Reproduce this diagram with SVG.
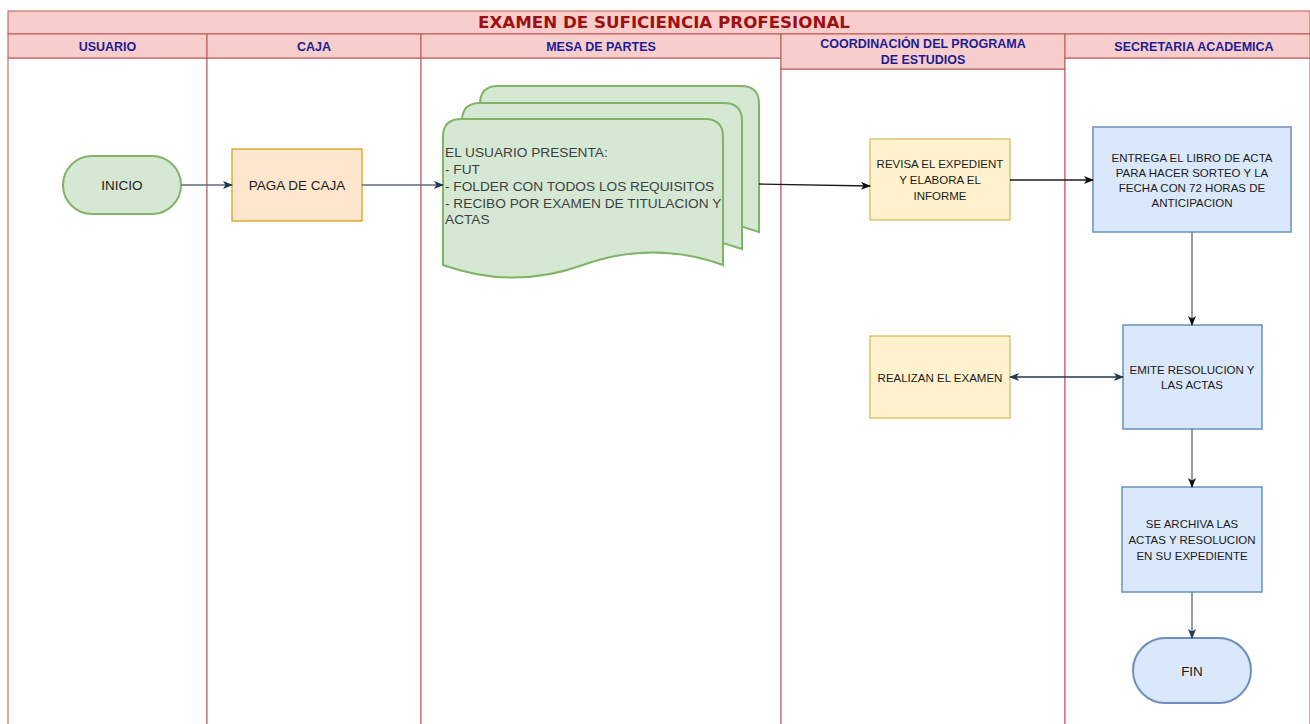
<svg xmlns="http://www.w3.org/2000/svg" width="1310" height="724" viewBox="0 0 1310 724">
<style>
.lane{fill:#ffffff;stroke:#b85450;stroke-width:1}
.hdr{fill:#f8cecc;stroke:#b85450;stroke-width:1}
.ht{font-family:"Liberation Sans",Arial,sans-serif;font-weight:bold;font-size:12.5px;fill:#1c1c94;text-anchor:middle}
.title{font-family:"DejaVu Sans",Verdana,sans-serif;font-weight:bold;font-size:15px;fill:#9e1010;text-anchor:middle}
.t{font-family:"Liberation Sans",Arial,sans-serif;font-size:11.5px;fill:#1a1a1a;text-anchor:middle}
.tb{font-family:"Liberation Sans",Arial,sans-serif;font-size:13.5px;fill:#1a1a1a;text-anchor:middle}
.dt{font-family:"Liberation Sans",Arial,sans-serif;font-size:13.7px;fill:#404040}
.green{fill:#d5e8d4;stroke:#82b366;stroke-width:2}
.orange{fill:#ffe6cc;stroke:#d79b00;stroke-width:1.2}
.yellow{fill:#fff2cc;stroke:#d6b656;stroke-width:1.2}
.blue{fill:#dae8fc;stroke:#6c8ebf;stroke-width:1.5}
.blue2{fill:#dae8fc;stroke:#6c8ebf;stroke-width:2}
.e{fill:none;stroke-width:1.3}
</style>
<defs>
<marker id="navy" markerWidth="10" markerHeight="8" refX="9" refY="4" orient="auto" markerUnits="userSpaceOnUse">
<path d="M0,0 L10,4 L0,8 L2.5,4 Z" fill="#23374d"/>
</marker>
<marker id="navyS" markerWidth="10" markerHeight="8" refX="1" refY="4" orient="auto" markerUnits="userSpaceOnUse">
<path d="M10,0 L0,4 L10,8 L7.5,4 Z" fill="#23374d"/>
</marker>
<marker id="blk" markerWidth="10" markerHeight="8" refX="9" refY="4" orient="auto" markerUnits="userSpaceOnUse">
<path d="M0,0 L10,4 L0,8 L2.5,4 Z" fill="#111111"/>
</marker>
</defs>

<g id="pool">
<rect class="hdr" x="8" y="11" width="1302" height="23"/>
<text class="title" x="664" y="28" textLength="372" lengthAdjust="spacingAndGlyphs">EXAMEN DE SUFICIENCIA PROFESIONAL</text>
</g>

<g id="lane-usuario">
<rect class="lane" x="8" y="58" width="199" height="680"/>
<rect class="hdr" x="8" y="34" width="199" height="24"/>
<text class="ht" x="107.5" y="51">USUARIO</text>
</g>
<g id="lane-caja">
<rect class="lane" x="207" y="58" width="214" height="680"/>
<rect class="hdr" x="207" y="34" width="214" height="24"/>
<text class="ht" x="314" y="51">CAJA</text>
</g>
<g id="lane-mesa">
<rect class="lane" x="421" y="58" width="360" height="680"/>
<rect class="hdr" x="421" y="34" width="360" height="24"/>
<text class="ht" x="601" y="51">MESA DE PARTES</text>
</g>
<g id="lane-coord">
<rect class="lane" x="781" y="69" width="284" height="680"/>
<rect class="hdr" x="781" y="34" width="284" height="35"/>
<text class="ht" x="923" y="48">COORDINACIÓN DEL PROGRAMA</text>
<text class="ht" x="923" y="64">DE ESTUDIOS</text>
</g>
<g id="lane-secretaria">
<rect class="lane" x="1065" y="58" width="245" height="680"/>
<rect class="hdr" x="1065" y="34" width="245" height="24"/>
<text class="ht" x="1194" y="51">SECRETARIA ACADEMICA</text>
</g>

<g id="inicio">
<rect class="green" x="63" y="156" width="118" height="58" rx="29" ry="29"/>
<text class="tb" x="122" y="190">INICIO</text>
</g>
<g id="paga">
<rect class="orange" x="232" y="149" width="130" height="72"/>
<text class="tb" x="297" y="190">PAGA DE CAJA</text>
</g>
<g id="documentos">
<path class="green" d="M480,232 L480,104 Q480,86 498,86 L741,86 Q759,86 759,104 L759,232 Q689.25,206.8 619.5,232 Q549.75,257.2 480,232 Z"/>
<path class="green" d="M462,249 L462,121 Q462,103 480,103 L724,103 Q742,103 742,121 L742,249 Q672,223.8 602,249 Q532,274.2 462,249 Z"/>
<path class="green" d="M443,265 L443,137 Q443,119 461,119 L705,119 Q723,119 723,137 L723,265 Q653,239.8 583,265 Q513,290.2 443,265 Z"/>
<text class="dt" x="445" y="157">EL USUARIO PRESENTA:</text>
<text class="dt" x="445" y="174">- FUT</text>
<text class="dt" x="445" y="191">- FOLDER CON TODOS LOS REQUISITOS</text>
<text class="dt" x="445" y="208">- RECIBO POR EXAMEN DE TITULACION Y</text>
<text class="dt" x="445" y="224">ACTAS</text>
</g>
<g id="revisa">
<rect class="yellow" x="870" y="139" width="140" height="81"/>
<text class="t" x="940" y="168">REVISA EL EXPEDIENT</text>
<text class="t" x="940" y="184">Y ELABORA EL</text>
<text class="t" x="940" y="200">INFORME</text>
</g>
<g id="entrega">
<rect class="blue" x="1093" y="127" width="198" height="105"/>
<text class="t" x="1192" y="162">ENTREGA EL LIBRO DE ACTA</text>
<text class="t" x="1192" y="177">PARA HACER SORTEO Y LA</text>
<text class="t" x="1192" y="192">FECHA CON 72 HORAS DE</text>
<text class="t" x="1192" y="207">ANTICIPACION</text>
</g>
<g id="realizan">
<rect class="yellow" x="870" y="336" width="140" height="82"/>
<text class="t" x="940" y="382">REALIZAN EL EXAMEN</text>
</g>
<g id="emite">
<rect class="blue" x="1123" y="325" width="139" height="104"/>
<text class="t" x="1192" y="374">EMITE RESOLUCION Y</text>
<text class="t" x="1192" y="389">LAS ACTAS</text>
</g>
<g id="archiva">
<rect class="blue" x="1122" y="487" width="140" height="105"/>
<text class="t" x="1192" y="528">SE ARCHIVA LAS</text>
<text class="t" x="1192" y="544">ACTAS Y RESOLUCION</text>
<text class="t" x="1192" y="560">EN SU EXPEDIENTE</text>
</g>
<g id="fin">
<rect class="blue2" x="1133" y="638" width="118" height="65" rx="32.5" ry="32.5"/>
<text class="tb" x="1192" y="676">FIN</text>
</g>

<g id="connectors">
<path class="e" d="M181,185 L232,185" stroke="#5d6d7e" marker-end="url(#navy)"/>
<path class="e" d="M362,185 L443,185" stroke="#5d6d7e" marker-end="url(#navy)"/>
<path class="e" d="M759,184 L870,186" stroke="#1a1a1a" marker-end="url(#blk)"/>
<path class="e" d="M1010,180 L1093,180" stroke="#1a1a1a" marker-end="url(#blk)"/>
<path class="e" d="M1192,232 L1192,325" stroke="#666666" marker-end="url(#blk)"/>
<path class="e" d="M1010,377 L1123,377" stroke="#23374d" marker-start="url(#navyS)" marker-end="url(#navy)"/>
<path class="e" d="M1192,429 L1192,487" stroke="#666666" marker-end="url(#blk)"/>
<path class="e" d="M1192,592 L1192,638" stroke="#5d6d7e" marker-end="url(#navy)"/>
</g>
</svg>
